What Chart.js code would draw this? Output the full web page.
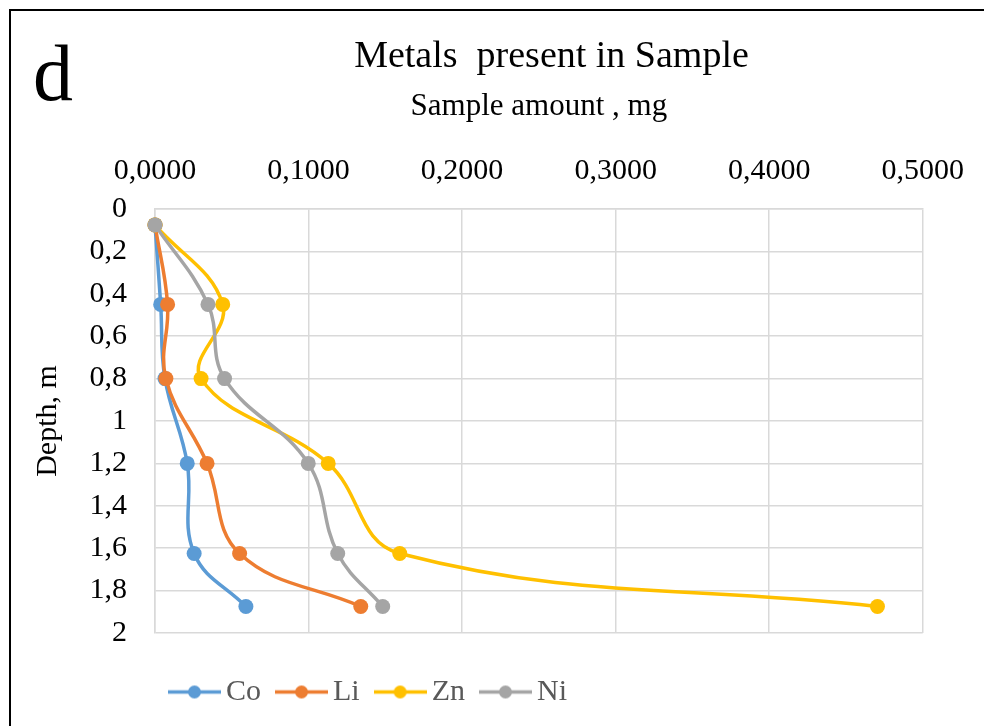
<!DOCTYPE html>
<html lang="en">
<head>
    <meta charset="UTF-8">
    <title>Metals present in Sample</title>
    <script src="https://cdn.jsdelivr.net/npm/chart.js"></script>
    <style type="text/css">
        body {
            margin: 0;
            overflow: hidden;
            background: #fff;
        }

        #frame {
            position: absolute;
            left: 9px;
            top: 9px;
            width: 1100px;
            height: 900px;
            border: 2px solid #000;
        }

        #panel {
            position: absolute;
            left: 33px;
            top: 33px;
            font-family: "Liberation Serif", serif;
            font-size: 80px;
            line-height: 1;
            color: #000;
        }

        #wrap {
            position: absolute;
            left: 0;
            top: 0;
            width: 984px;
            height: 726px;
        }
    </style>
</head>
<body>
<div id="frame"></div>
<div id="panel">d</div>
<div id="wrap">
    <canvas id="myChart"></canvas>
</div>

<script>
  // depth of each sample, m
  var depths = [0.075, 0.45, 0.8, 1.2, 1.625, 1.875];

  // amount found, mg
  var co = [0, 0.0037, 0.0065, 0.0210, 0.0255, 0.0592];
  var li = [0, 0.0082, 0.0071, 0.0339, 0.0551, 0.1340];
  var zn = [0, 0.0441, 0.0300, 0.1128, 0.1594, 0.4705];
  var ni = [0, 0.0345, 0.0453, 0.0998, 0.1190, 0.1483];

  var seriesNames = ['Co', 'Li', 'Zn', 'Ni'];
  var seriesValues = [co, li, zn, ni];
  var seriesColors = ['#5B9BD5', '#ED7D31', '#FFC000', '#A5A5A5'];

  var serif = '"Liberation Serif", "Times New Roman", serif';

  function toPoints(values) {
    var pts = [];
    for (var i = 0; i < values.length; i++) {
      pts.push({x: values[i], y: depths[i]});
    }
    return pts;
  }

  // little line-with-dot icon for the legend
  function legendIcon(color) {
    var c = document.createElement('canvas');
    c.width = 53;
    c.height = 15;
    var g = c.getContext('2d');
    g.strokeStyle = color;
    g.lineWidth = 3.5;
    g.beginPath();
    g.moveTo(0, 7.5);
    g.lineTo(53, 7.5);
    g.stroke();
    g.fillStyle = color;
    g.beginPath();
    g.arc(26.5, 7.5, 6.5, 0, Math.PI * 2);
    g.fill();
    return c;
  }

  var datasets = [];
  for (var i = 0; i < seriesNames.length; i++) {
    datasets.push({
      label: seriesNames[i],
      data: toPoints(seriesValues[i]),
      showLine: true,
      borderColor: seriesColors[i],
      backgroundColor: seriesColors[i],
      borderWidth: 3.5,
      pointRadius: 7.5,
      pointHoverRadius: 7.5,
      pointBorderWidth: 0,
      pointBackgroundColor: seriesColors[i],
      tension: 0.4,
      clip: false,
      order: seriesNames.length - i
    });
  }

  // put the title and legend where Excel had them
  var boxPlacer = {
    id: 'boxPlacer',
    afterLayout: function (chart) {
      var lg = chart.legend;
      if (lg) {
        var h = lg.height;
        lg.top = 653;
        lg.bottom = 653 + h;
        lg.left = 154;
      }
      var tb = chart.titleBlock;
      if (tb) {
        tb.left = 178;
        tb.right = 925;
        tb.width = tb.right - tb.left;
      }
    }
  };

  var ctx = document.getElementById('myChart').getContext('2d');

  var myChart = new Chart(ctx, {
    type: 'scatter',
    data: {datasets: datasets},
    plugins: [boxPlacer],
    options: {
      responsive: true,
      maintainAspectRatio: false,
      animation: false,
      layout: {
        padding: {left: 0, right: 59, top: 0, bottom: 29}
      },
      plugins: {
        title: {
          display: true,
          text: 'Metals  present in Sample',
          color: '#000',
          font: {family: serif, size: 38, weight: 'normal'},
          padding: {top: 34, bottom: 0}
        },
        legend: {
          position: 'bottom',
          align: 'start',
          labels: {
            color: '#595959',
            font: {family: serif, size: 30},
            usePointStyle: true,
            pointStyleWidth: 33,
            padding: 24,
            generateLabels: function (chart) {
              return chart.data.datasets.map(function (ds, idx) {
                return {
                  text: ds.label,
                  fillStyle: ds.borderColor,
                  strokeStyle: ds.borderColor,
                  fontColor: '#595959',
                  lineWidth: 0,
                  pointStyle: legendIcon(ds.borderColor),
                  hidden: false,
                  datasetIndex: idx
                };
              });
            }
          }
        },
        tooltip: {enabled: false}
      },
      scales: {
        x: {
          type: 'linear',
          position: 'top',
          min: 0,
          max: 0.5,
          afterFit: function (scale) {
            scale.height = 129.4;
          },
          ticks: {
            stepSize: 0.1,
            color: '#000',
            padding: 20,
            maxRotation: 0,
            font: {family: serif, size: 30},
            callback: function (v) {
              return v.toFixed(4).replace('.', ',');
            }
          },
          grid: {
            color: '#D9D9D9',
            lineWidth: 1.5,
            drawTicks: false
          },
          border: {color: '#D9D9D9', width: 1.5},
          title: {
            display: true,
            text: 'Sample amount , mg',
            color: '#000',
            font: {family: serif, size: 31},
            padding: {top: 9, bottom: 0}
          }
        },
        y: {
          type: 'linear',
          reverse: true,
          min: 0,
          max: 2,
          afterFit: function (scale) {
            scale.width = 155;
          },
          ticks: {
            stepSize: 0.2,
            color: '#000',
            padding: 28,
            font: {family: serif, size: 30},
            callback: function (v) {
              return String(Number(v.toFixed(1))).replace('.', ',');
            }
          },
          grid: {
            color: '#D9D9D9',
            lineWidth: 1.5,
            drawTicks: false
          },
          border: {color: '#D9D9D9', width: 1.5},
          title: {
            display: true,
            text: 'Depth, m',
            color: '#000',
            font: {family: serif, size: 30},
            padding: {top: 30, bottom: 0}
          }
        }
      }
    }
  });
</script>
</body>
</html>
